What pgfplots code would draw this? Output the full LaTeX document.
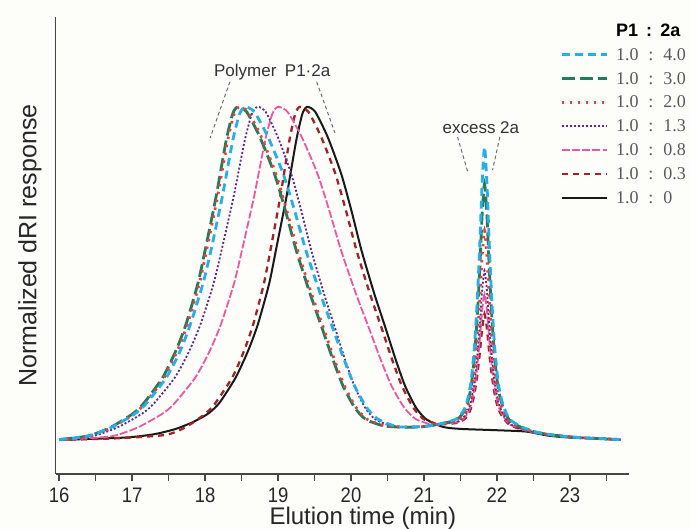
\documentclass[border=0pt]{standalone}
\usepackage{fontspec}
\usepackage{graphicx}
\usepackage{pgfplots}
\usepackage{pgfplotstable}
\pgfplotsset{compat=1.18}
\setmainfont{Liberation Sans}
\newfontfamily\legserif{Liberation Serif}

\definecolor{bgcream}{RGB}{253,253,249}
\definecolor{axisgray}{RGB}{70,70,70}
\definecolor{annogray}{RGB}{110,110,110}
\definecolor{cfour}{RGB}{38,175,230}
\definecolor{cthree}{RGB}{40,120,90}
\definecolor{ctwo}{RGB}{225,65,60}
\definecolor{cone}{RGB}{100,40,140}
\definecolor{cpeight}{RGB}{236,88,160}
\definecolor{cpthree}{RGB}{160,35,40}
\definecolor{czero}{RGB}{25,25,25}

% GPC traces, P1 : 2a feed ratios (normalised dRI, baseline = 0)
\pgfplotstableread{
t r
16.00 0.004
16.40 0.015
16.71 0.04
17.03 0.08
17.185 0.11
17.47 0.19
17.66 0.27
17.80 0.35
17.97 0.47
18.08 0.57
18.235 0.73
18.38 0.90
18.475 0.98
18.55 1.00
18.675 0.985
18.862 0.91
19.07 0.80
19.226 0.69
19.382 0.57
19.58 0.44
19.746 0.34
19.902 0.245
20.048 0.165
20.214 0.10
20.37 0.065
20.63 0.043
20.90 0.042
21.15 0.048
21.35 0.058
21.47 0.070
21.57 0.103
21.64 0.170
21.69 0.279
21.73 0.421
21.765 0.588
21.797 0.771
21.83 0.880
21.863 0.771
21.895 0.588
21.93 0.421
21.97 0.279
22.02 0.170
22.09 0.103
22.18 0.064
22.33 0.043
22.53 0.027
22.75 0.018
23.00 0.012
23.30 0.008
23.70 0.004
}\ratiofour

\pgfplotstableread{
t r
16.00 0.004
16.40 0.015
16.70 0.04
17.00 0.08
17.15 0.11
17.42 0.19
17.60 0.27
17.74 0.35
17.90 0.47
18.00 0.57
18.15 0.73
18.29 0.90
18.38 0.98
18.45 1.00
18.57 0.985
18.75 0.91
18.95 0.80
19.10 0.69
19.25 0.57
19.44 0.44
19.60 0.34
19.75 0.245
19.89 0.165
20.05 0.10
20.20 0.065
20.45 0.045
20.75 0.041
21.00 0.043
21.20 0.050
21.37 0.058
21.47 0.067
21.57 0.096
21.64 0.154
21.69 0.248
21.73 0.371
21.765 0.516
21.797 0.676
21.83 0.770
21.863 0.676
21.895 0.516
21.93 0.371
21.97 0.248
22.02 0.154
22.09 0.096
22.18 0.060
22.33 0.041
22.53 0.026
22.75 0.018
23.00 0.012
23.30 0.008
23.70 0.004
}\ratiothree

\pgfplotstableread{
t r
16.00 0.004
16.42 0.015
16.72 0.04
17.02 0.08
17.17 0.11
17.44 0.19
17.62 0.27
17.76 0.35
17.92 0.47
18.02 0.57
18.17 0.73
18.31 0.90
18.40 0.98
18.47 1.00
18.59 0.985
18.77 0.91
18.97 0.80
19.12 0.69
19.27 0.57
19.46 0.44
19.62 0.34
19.77 0.245
19.91 0.165
20.07 0.10
20.22 0.065
20.47 0.045
20.77 0.041
21.00 0.043
21.20 0.050
21.37 0.057
21.47 0.063
21.57 0.086
21.64 0.133
21.69 0.209
21.73 0.308
21.765 0.425
21.797 0.554
21.83 0.630
21.863 0.554
21.895 0.425
21.93 0.308
21.97 0.209
22.02 0.133
22.09 0.086
22.18 0.055
22.33 0.039
22.53 0.026
22.75 0.018
23.00 0.012
23.30 0.008
23.70 0.004
}\ratiotwo

\pgfplotstableread{
t r
16.00 0.004
16.465 0.015
16.795 0.04
17.125 0.08
17.29 0.11
17.587 0.19
17.785 0.27
17.939 0.35
18.115 0.47
18.225 0.57
18.39 0.73
18.544 0.90
18.643 0.98
18.72 1.00
18.83 0.985
18.996 0.91
19.18 0.80
19.318 0.69
19.456 0.57
19.631 0.44
19.778 0.34
19.916 0.245
20.045 0.165
20.192 0.10
20.33 0.065
20.56 0.045
20.85 0.042
21.10 0.046
21.30 0.053
21.47 0.059
21.57 0.078
21.64 0.115
21.69 0.175
21.73 0.254
21.765 0.347
21.797 0.450
21.83 0.510
21.863 0.450
21.895 0.347
21.93 0.254
21.97 0.175
22.02 0.115
22.09 0.078
22.18 0.051
22.33 0.037
22.53 0.025
22.75 0.018
23.00 0.012
23.30 0.008
23.70 0.004
}\ratioone

\pgfplotstableread{
t r
16.00 0.003
16.40 0.008
16.745 0.015
17.075 0.04
17.405 0.08
17.57 0.11
17.867 0.19
18.065 0.27
18.219 0.35
18.395 0.47
18.505 0.57
18.67 0.73
18.824 0.90
18.923 0.98
19.00 1.00
19.13 0.985
19.324 0.91
19.54 0.80
19.702 0.69
19.864 0.57
20.069 0.44
20.242 0.34
20.404 0.245
20.555 0.165
20.728 0.10
20.89 0.065
21.10 0.050
21.30 0.052
21.47 0.057
21.57 0.073
21.64 0.104
21.69 0.156
21.73 0.223
21.765 0.302
21.797 0.389
21.83 0.440
21.863 0.389
21.895 0.302
21.93 0.223
21.97 0.156
22.02 0.104
22.09 0.073
22.18 0.049
22.33 0.036
22.53 0.024
22.75 0.018
23.00 0.012
23.30 0.008
23.70 0.004
}\ratiopeight

\pgfplotstableread{
t r
16.00 0.003
16.80 0.008
17.455 0.018
17.725 0.04
17.995 0.08
18.13 0.11
18.373 0.19
18.535 0.27
18.661 0.35
18.805 0.47
18.895 0.57
19.03 0.73
19.156 0.90
19.237 0.98
19.30 1.00
19.416 0.985
19.591 0.91
19.785 0.80
19.93 0.69
20.076 0.57
20.26 0.44
20.416 0.34
20.561 0.245
20.697 0.165
20.852 0.10
20.998 0.065
21.20 0.050
21.37 0.052
21.47 0.055
21.57 0.068
21.64 0.095
21.69 0.139
21.73 0.196
21.765 0.263
21.797 0.336
21.83 0.380
21.863 0.336
21.895 0.263
21.93 0.196
21.97 0.139
22.02 0.095
22.09 0.068
22.18 0.047
22.33 0.035
22.53 0.024
22.75 0.018
23.00 0.012
23.30 0.008
23.70 0.004
}\ratiopthree

\pgfplotstableread{
t r
16.00 0.003
16.90 0.010
17.30 0.020
17.60 0.036
17.85 0.058
18.05 0.083
18.20 0.115
18.42 0.19
18.59 0.27
18.725 0.35
18.8775 0.47
18.97 0.57
19.115 0.73
19.25 0.90
19.335 0.98
19.40 1.00
19.51 0.985
19.68 0.91
19.865 0.80
20.005 0.69
20.144 0.57
20.32 0.44
20.47 0.34
20.61 0.245
20.74 0.165
20.89 0.10
21.03 0.065
21.26 0.042
21.50 0.036
22.00 0.032
22.40 0.028
22.70 0.016
23.00 0.010
23.70 0.004
}\ratiozero

\tikzset{
  sfour/.style={cfour, line width=1.4pt, dash pattern=on 4pt off 2.5pt},
  sthree/.style={cthree, line width=1.4pt, dash pattern=on 6.5pt off 2.5pt},
  stwo/.style={ctwo, line width=1.4pt, dash pattern=on 1.2pt off 2.8pt},
  sone/.style={cone, line width=0.9pt, dash pattern=on 1pt off 1pt},
  speight/.style={cpeight, line width=0.9pt, dash pattern=on 4pt off 1.1pt},
  spthree/.style={cpthree, line width=1.15pt, dash pattern=on 3pt off 2.5pt},
  szero/.style={czero, line width=1.0pt},
}

\newcommand{\ratio}[2]{{\legserif #1\hspace{0.55em}:\hspace{0.55em}#2}}

\begin{document}
\begin{tikzpicture}
\useasboundingbox (-27.75pt,-27.5pt) rectangle (317.75pt,237pt);
\fill[bgcream] (-27.75pt,-27.5pt) rectangle (317.75pt,237pt);
\begin{axis}[
  at={(0pt,0pt)}, anchor=south west,
  scale only axis,
  width=286.75pt, height=228.5pt,
  xmin=15.95, xmax=23.81,
  ymin=-0.099, ymax=1.269,
  axis x line*=bottom, axis y line*=left,
  axis line style={draw=axisgray, line width=0.8pt},
  xtick={16,17,...,23},
  minor xtick={16.5,17.5,...,23.5},
  ytick=\empty,
  tick align=outside,
  major tick length=3.6pt, minor tick length=3.6pt,
  tick style={axisgray, line width=0.7pt},
  xticklabel={\scalebox{0.88}[1]{\pgfmathprintnumber[assume math mode=true]{\tick}}},
  xticklabel style={font=\fontsize{10.5}{12}\selectfont, text=black!85, inner sep=1pt, yshift=-2pt},
  xlabel={Elution time (min)},
  xlabel style={at={(axis description cs:0.536,-0.072)}, anchor=north, inner sep=0pt,
    font=\fontsize{12}{14}\selectfont, text=black!85},
  ylabel={Normalized dRI response},
  ylabel style={at={(axis description cs:-0.0445,0.5)}, anchor=center, rotate=0, inner sep=0pt,
    font=\fontsize{12.5}{14}\selectfont, text=black!85},
  legend style={
    at={(axis description cs:0.8795,0.993)}, anchor=north west,
    draw=none, fill=none, inner sep=0pt,
    row sep=1.4pt, column sep=3pt,
    nodes={inner sep=1pt, text height=7pt, text depth=1.5pt, text=black!65,
      font=\fontsize{9}{10}\selectfont},
  },
  legend cell align=left,
  legend image code/.code={\draw[#1] (0pt,0pt) -- (22.5pt,0pt);},
]
% traces, drawn back to front
\addplot[szero, smooth, tension=0.4, forget plot] table[x=t, y=r] {\ratiozero};
\addplot[spthree, smooth, tension=0.4, forget plot] table[x=t, y=r] {\ratiopthree};
\addplot[speight, smooth, tension=0.4, forget plot] table[x=t, y=r] {\ratiopeight};
\addplot[sone, smooth, tension=0.4, forget plot] table[x=t, y=r] {\ratioone};
\addplot[sthree, smooth, tension=0.4, forget plot] table[x=t, y=r] {\ratiothree};
\addplot[stwo, smooth, tension=0.4, forget plot] table[x=t, y=r] {\ratiotwo};
\addplot[sfour, smooth, tension=0.4, forget plot] table[x=t, y=r] {\ratiofour};

% legend
\addlegendimage{empty legend}
\addlegendentry{\textcolor{black}{\bfseries P1\hspace{0.45em}:\hspace{0.45em}2a}}
\addlegendimage{sfour}\addlegendentry{\ratio{1.0}{4.0}}
\addlegendimage{sthree}\addlegendentry{\ratio{1.0}{3.0}}
\addlegendimage{stwo}\addlegendentry{\ratio{1.0}{2.0}}
\addlegendimage{sone}\addlegendentry{\ratio{1.0}{1.3}}
\addlegendimage{speight}\addlegendentry{\ratio{1.0}{0.8}}
\addlegendimage{spthree}\addlegendentry{\ratio{1.0}{0.3}}
\addlegendimage{szero}\addlegendentry{\ratio{1.0}{0}}

% peak annotations
\draw[annogray, line width=0.5pt, dash pattern=on 1.8pt off 1.4pt]
  (axis cs:18.34,1.075) -- (axis cs:18.07,0.907)
  (axis cs:19.53,1.075) -- (axis cs:19.78,0.922)
  (axis cs:21.46,0.910) -- (axis cs:21.60,0.805)
  (axis cs:22.04,0.910) -- (axis cs:21.94,0.811);
\node[font=\fontsize{8.5}{10}\selectfont, text=black!80, inner sep=0pt]
  at (axis cs:18.92,1.105) {Polymer\hspace{0.5em}P1\textperiodcentered 2a};
\node[font=\fontsize{8.5}{10}\selectfont, text=black!80, inner sep=0pt]
  at (axis cs:21.78,0.937) {excess 2a};
\end{axis}
\end{tikzpicture}
\end{document}
